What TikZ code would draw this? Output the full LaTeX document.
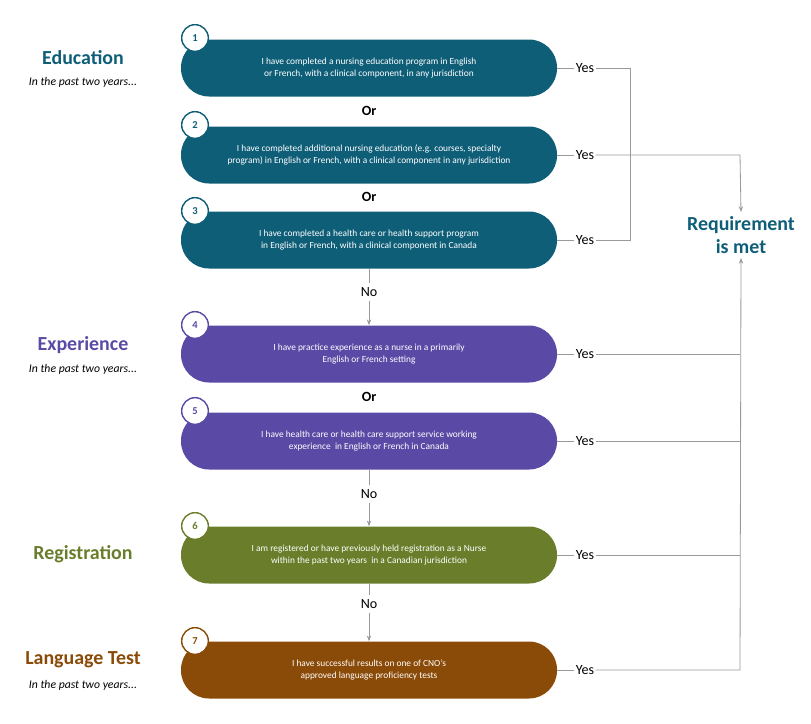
\documentclass[tikz,border=0pt]{standalone}
\usepackage{fontspec}
\setmainfont{Carlito}
\usetikzlibrary{arrows.meta, positioning, calc}
\definecolor{edu}{HTML}{0F5E78}
\definecolor{exp}{HTML}{5B4AA5}
\definecolor{reg}{HTML}{6A7D2B}
\definecolor{lang}{HTML}{8A4A08}
\definecolor{ln}{HTML}{9A9A9A}
\tikzset{
  pill/.style={rounded corners=28*0.03cm, minimum width=376*0.03cm, minimum height=57*0.03cm, text=white, align=center, font=\fontsize{8}{10}\selectfont, inner sep=0pt},
  num/.style={circle, draw=#1, line width=1.2pt, fill=white, text=#1, minimum size=0.8cm, inner sep=0pt, font=\fontsize{9}{10}\selectfont\bfseries},
  yes/.style={font=\fontsize{12}{14}\selectfont, inner sep=1pt},
  orlab/.style={font=\fontsize{12}{14}\selectfont\bfseries},
  nolab/.style={font=\fontsize{12}{14}\selectfont},
  head/.style={font=\fontsize{17}{20}\selectfont\bfseries, text=#1},
  sub/.style={font=\fontsize{10}{12}\selectfont\itshape},
  conn/.style={draw=ln, line width=0.7pt},
  arr/.style={conn, -{Stealth[length=5pt]}}
}
\begin{document}
\begin{tikzpicture}[x=0.03cm, y=-0.03cm]
\useasboundingbox (0,0) rectangle (811,723);
% boxes
\node [pill, fill=edu] (b1) at (369,68) {I have completed a nursing education program in English\\or French, with a clinical component, in any jurisdiction};
\node [pill, fill=edu] (b2) at (369,155) {I have completed additional nursing education (e.g. courses, specialty\\program) in English or French, with a clinical component in any jurisdiction};
\node [pill, fill=edu] (b3) at (369,240) {I have completed a health care or health support program\\in English or French, with a clinical component in Canada};
\node [pill, fill=exp] (b4) at (369,354) {I have practice experience as a nurse in a primarily\\English or French setting};
\node [pill, fill=exp] (b5) at (369,441) {I have health care or health care support service working\\experience\ \ in English or French in Canada};
\node [pill, fill=reg] (b6) at (369,555) {I am registered or have previously held registration as a Nurse\\within the past two years\ \ in a Canadian jurisdiction};
\node [pill, fill=lang] (b7) at (369,670) {I have successful results on one of CNO's\\approved language proficiency tests};
% numbers
\node [num=edu] (n1) at (195,38) {1};
\node [num=edu] (n2) at (195,125) {2};
\node [num=edu] (n3) at (195,211) {3};
\node [num=exp] (n4) at (195,325) {4};
\node [num=exp] (n5) at (195,411) {5};
\node [num=reg] (n6) at (195,526) {6};
\node [num=lang] (n7) at (195,641) {7};
% headings
\node [head=edu] (h1) at (83,58) {Education};
\node [sub] (s1) at (83,82) {In the past two years...};
\node [head=exp] (h2) at (83,345) {Experience};
\node [sub] (s2) at (83,369) {In the past two years...};
\node [head=reg] (h3) at (83,554) {Registration};
\node [head=lang] (h4) at (83,660) {Language Test};
\node [sub] (s4) at (83,685) {In the past two years...};
% or / no
\node [orlab] (o1) at (369,111) {Or};
\node [orlab] (o2) at (369,197) {Or};
\node [orlab] (o3) at (369,397) {Or};
\node [nolab] (no1) at (369,292) {No};
\node [nolab] (no2) at (369,494) {No};
\node [nolab] (no3) at (369,604) {No};
\draw [conn] (b3.south) -- (no1.north);
\draw [arr] (no1.south) -- (b4.north);
\draw [conn] (b5.south) -- (no2.north);
\draw [arr] (no2.south) -- (b6.north);
\draw [conn] (b6.south) -- (no3.north);
\draw [arr] (no3.south) -- (b7.north);
% yes
\foreach \i/\y in {1/68,2/155,3/240,4/354,5/441,6/555,7/670}{
  \node [yes] (y\i) at (585,\y) {Yes};
  \draw [conn] (b\i.east) -- (y\i.west);
}
\node [font=\fontsize{17}{20}\selectfont\bfseries, text=edu, align=center] (req) at (741,235) {Requirement\\is met};
\coordinate (c1) at (630,68);
\coordinate (c3) at (630,240);
\coordinate (c2) at (740,155);
\coordinate (c7) at (740,670);
\draw [conn] (y1.east) -- (c1) -- (c3) -- (y3.east);
\draw [arr] (y2.east) -- (c2) -- (req.north);
\draw [arr] (y7.east) -- (c7) -- (req.south);
\foreach \i in {4,5,6}{
  \draw [conn] (y\i.east) -- (c7 |- y\i);
}
\end{tikzpicture}
\end{document}
